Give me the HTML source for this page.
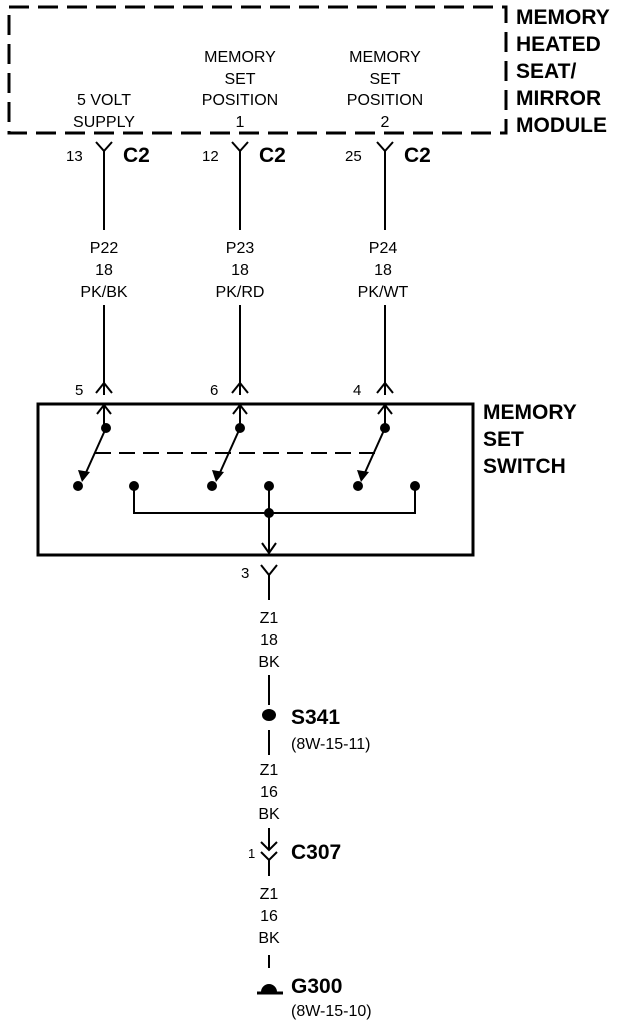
<!DOCTYPE html>
<html><head><style>body{margin:0;background:#fff}svg{display:block}text{font-family:"Liberation Sans",sans-serif;fill:#000}</style></head><body>
<svg width="640" height="1026" viewBox="0 0 640 1026" xmlns="http://www.w3.org/2000/svg">
<g stroke="#000" fill="none">
<rect x="9" y="7" width="497" height="126" stroke-width="3" stroke-dasharray="20,9"/>
<g stroke-width="2">
<path d="M96 142 L104 151 L112 142 M104 151 V230"/>
<path d="M232 142 L240 151 L248 142 M240 151 V230"/>
<path d="M377 142 L385 151 L393 142 M385 151 V230"/>
<path d="M104 305 V395 M96 393 L104 383 L112 393"/>
<path d="M240 305 V395 M232 393 L240 383 L248 393"/>
<path d="M385 305 V395 M377 393 L385 383 L393 393"/>
</g>
<rect x="38" y="404" width="435" height="151" stroke-width="3"/>
<g stroke-width="2">
<path d="M104 405 V428 M97 414 L104 405 L111 414"/>
<path d="M240 405 V428 M233 414 L240 405 L247 414"/>
<path d="M385 405 V428 M378 414 L385 405 L392 414"/>
<path d="M106 428 L84 477 M240 428 L218 477 M385 428 L363 477"/>
<path d="M95 453 H375" stroke-dasharray="16,8"/>
<path d="M134 486 V513 H415 V486 M269 486 V553 M262 543 L269 553 L276 543"/>
<path d="M261 565 L269 575 L277 565 M269 575 V600"/>
<path d="M269 675 V705 M269 730 V755 M269 828 V850 M261 842 L269 850 L277 842 M261 852 L269 860 L277 852 M269 860 V876 M269 955 V968"/>
<path d="M257 993 H283" stroke-width="3"/>
</g>
</g>
<g fill="#000">
<path d="M78 470 L90 472 L82 482 Z M212 470 L224 472 L216 482 Z M357 470 L369 472 L361 482 Z"/>
<circle cx="106" cy="428" r="5"/><circle cx="240" cy="428" r="5"/><circle cx="385" cy="428" r="5"/>
<circle cx="78" cy="486" r="5"/><circle cx="134" cy="486" r="5"/><circle cx="212" cy="486" r="5"/><circle cx="269" cy="486" r="5"/><circle cx="358" cy="486" r="5"/><circle cx="415" cy="486" r="5"/>
<circle cx="269" cy="513" r="5"/>
<ellipse cx="269" cy="715" rx="7" ry="6"/>
<path d="M261 992 A8 8 0 0 1 277 992 Z"/>
</g>
<g font-size="16" text-anchor="middle">
<text x="104" y="105">5 VOLT</text><text x="104" y="127">SUPPLY</text>
<text x="240" y="62">MEMORY</text><text x="240" y="84">SET</text><text x="240" y="105">POSITION</text><text x="240" y="127">1</text>
<text x="385" y="62">MEMORY</text><text x="385" y="84">SET</text><text x="385" y="105">POSITION</text><text x="385" y="127">2</text>
<text x="104" y="253">P22</text><text x="104" y="275">18</text><text x="104" y="297">PK/BK</text>
<text x="240" y="253">P23</text><text x="240" y="275">18</text><text x="240" y="297">PK/RD</text>
<text x="383" y="253">P24</text><text x="383" y="275">18</text><text x="383" y="297">PK/WT</text>
<text x="269" y="623">Z1</text><text x="269" y="645">18</text><text x="269" y="667">BK</text>
<text x="269" y="775">Z1</text><text x="269" y="797">16</text><text x="269" y="819">BK</text>
<text x="269" y="899">Z1</text><text x="269" y="921">16</text><text x="269" y="943">BK</text>
</g>
<g font-size="15">
<text x="66" y="161">13</text><text x="202" y="161">12</text><text x="345" y="161">25</text>
<text x="75" y="395">5</text><text x="210" y="395">6</text><text x="353" y="395">4</text>
<text x="241" y="578">3</text>
<text x="248" y="858" font-size="13">1</text>
<text x="291" y="749" font-size="16">(8W-15-11)</text><text x="291" y="1016" font-size="16">(8W-15-10)</text>
</g>
<g font-size="21" font-weight="bold">
<text x="123" y="162">C2</text><text x="259" y="162">C2</text><text x="404" y="162">C2</text>
<text x="516" y="24">MEMORY</text><text x="516" y="51">HEATED</text><text x="516" y="78">SEAT/</text><text x="516" y="105">MIRROR</text><text x="516" y="132">MODULE</text>
<text x="483" y="419">MEMORY</text><text x="483" y="446">SET</text><text x="483" y="473">SWITCH</text>
<text x="291" y="724">S341</text><text x="291" y="859">C307</text><text x="291" y="993">G300</text>
</g>
</svg>
</body></html>
